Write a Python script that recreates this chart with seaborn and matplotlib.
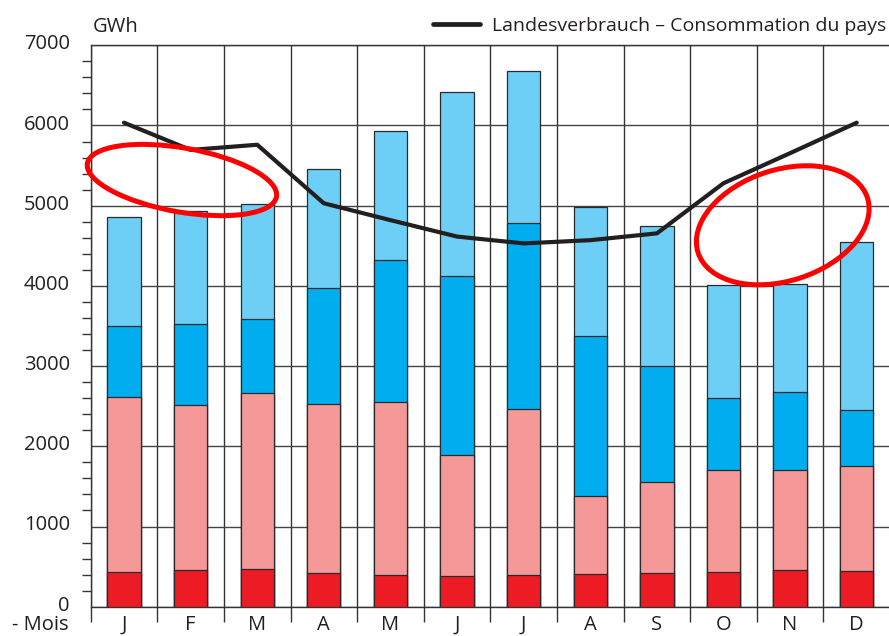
import numpy as np
import pandas as pd
import seaborn as sns
import matplotlib.pyplot as plt
from matplotlib.patches import Ellipse
from matplotlib.lines import Line2D
from matplotlib.transforms import ScaledTranslation

# monthly values, GWh
month_keys = ["Jan", "Feb", "Mar", "Apr", "May", "Jun", "Jul", "Aug", "Sep", "Oct", "Nov", "Dec"]
month_labels = ["J", "F", "M", "A", "M", "J", "J", "A", "S", "O", "N", "D"]
red_part = [430, 460, 470, 420, 400, 380, 400, 410, 420, 430, 460, 450]
pink_part = [2190, 2050, 2190, 2110, 2150, 1510, 2060, 970, 1140, 1280, 1250, 1300]
blue_part = [880, 1010, 930, 1440, 1770, 2230, 2320, 2000, 1440, 890, 970, 700]
lightblue_part = [1360, 1420, 1430, 1490, 1610, 2300, 1900, 1600, 1750, 1410, 1340, 2100]
consumption = [6035, 5695, 5760, 5030, 4820, 4615, 4530, 4570, 4655, 5280, 5655, 6035]

legend_text = "Landesverbrauch \u2013 Consommation du pays"

sns.set_style("white")
plt.rcParams["font.family"] = ["Open Sans", "DejaVu Sans"]
txt = "#231f20"

df = pd.DataFrame({"month": month_keys, "red": red_part, "pink": pink_part,
                   "blue": blue_part, "lightblue": lightblue_part})
df["t_red"] = df["red"]
df["t_pink"] = df["t_red"] + df["pink"]
df["t_blue"] = df["t_pink"] + df["blue"]
df["t_light"] = df["t_blue"] + df["lightblue"]

fig = plt.figure(figsize=(8.89, 6.36), dpi=100)
ax = fig.add_axes([90.7 / 889, (636 - 606.7) / 636, (890 - 90.7) / 889, (606.7 - 45.3) / 636])

# stacked bars: draw tallest first, then cover
layers = [("t_light", "#6dcff6"), ("t_blue", "#00aeef"), ("t_pink", "#f49898"), ("t_red", "#ed1c24")]
for col, c in layers:
    sns.barplot(data=df, x="month", y=col, color=c, width=0.5, saturation=1,
                edgecolor="#2a2a2a", linewidth=0.9, ax=ax, zorder=3)

sns.lineplot(x=np.arange(12), y=consumption, color=txt, linewidth=3, ax=ax, zorder=5)

ax.set_xlim(-0.5, 11.5)
ax.set_ylim(0, 7000)
ax.set_xlabel("")
ax.set_ylabel("")

ax.set_yticks(np.arange(0, 7001, 1000))
ax.set_yticks(np.arange(0, 7001, 200), minor=True)
ax.set_xticks(np.arange(12), month_labels)
ax.set_xticks(np.arange(-0.5, 12, 1), minor=True)

ax.tick_params(axis="y", which="major", length=12, width=1, color="#333333",
               labelsize=14.5, labelcolor=txt, pad=3)
ax.tick_params(axis="y", which="minor", length=6.5, width=1, color="#333333", left=True)
ax.tick_params(axis="x", which="major", length=0, labelsize=14.5, labelcolor=txt, pad=6)
ax.tick_params(axis="x", which="minor", length=11, width=1, color="#333333", bottom=True)

# y labels sit a bit above their tick in the original
for lab in ax.get_yticklabels():
    lab.set_transform(lab.get_transform() + ScaledTranslation(0, 3.5 / 100, fig.dpi_scale_trans))

ax.set_axisbelow(True)
ax.yaxis.grid(True, which="major", color="#444444", linewidth=1)
ax.xaxis.grid(True, which="minor", color="#333333", linewidth=1)
ax.xaxis.grid(False, which="major")

for s in ["left", "bottom", "top"]:
    ax.spines[s].set_color("#333333")
    ax.spines[s].set_linewidth(1)
ax.spines["right"].set_visible(False)

ax.text(0.002, (606.7 - 32) / 561.4, "GWh", transform=ax.transAxes, fontsize=14.5, color=txt,
        va="baseline", ha="left")
fig.text(69 / 889, 1.5 / 636, "- Mois", fontsize=14.5, color=txt, va="bottom", ha="right")

leg = ax.legend(handles=[Line2D([], [], color=txt, linewidth=3.4)], labels=[legend_text],
                loc="center right", bbox_to_anchor=(886 / 889, 1 - 26 / 636),
                bbox_transform=fig.transFigure, frameon=False, borderpad=0, borderaxespad=0,
                handlelength=2.4, handletextpad=0.6, fontsize=14)
for t in leg.get_texts():
    t.set_color(txt)

# red highlight ellipses (size in inches, centre in data units)
marks = [(0.87, 5320, 1.92, 0.64, -10), (9.89, 4756, 1.78, 1.11, 18)]
for cx, cy, w, h, ang in marks:
    e = Ellipse((0, 0), w, h, angle=ang, fill=False, edgecolor="#ff0000", linewidth=3.6,
                transform=fig.dpi_scale_trans + ScaledTranslation(cx, cy, ax.transData),
                zorder=6, clip_on=False)
    ax.add_patch(e)

fig.savefig("out.png", dpi=100)
